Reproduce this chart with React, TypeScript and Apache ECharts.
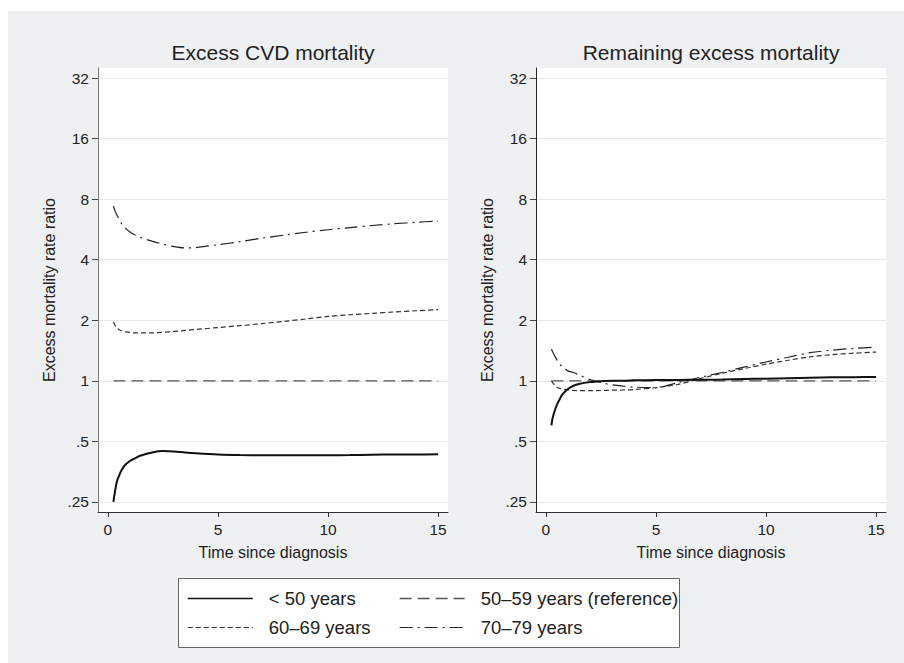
import React, { useEffect, useRef } from "react";
import * as echarts from "echarts";

const timePoints = [0.25, 0.3, 0.4, 0.5, 0.6, 0.75, 1, 1.25, 1.5, 2, 2.5, 3, 3.5, 4, 5, 6, 7, 8, 9, 10, 11, 12, 13, 14, 15];

const groupNames = ["< 50 years", "50–59 years (reference)", "60–69 years", "70–79 years"];
const panelTitles = ["Excess CVD mortality", "Remaining excess mortality"];
const yAxisTitle = "Excess mortality rate ratio";
const xAxisTitle = "Time since diagnosis";

// Excess CVD mortality (left panel)
const cvdUnder50 = [0.25, 0.272, 0.313, 0.336, 0.356, 0.378, 0.399, 0.413, 0.425, 0.44, 0.447, 0.445, 0.44, 0.436, 0.43, 0.427, 0.426, 0.426, 0.426, 0.426, 0.427, 0.429, 0.43, 0.43, 0.431];
const cvdRef = [1, 1, 1, 1, 1, 1, 1, 1, 1, 1, 1, 1, 1, 1, 1, 1, 1, 1, 1, 1, 1, 1, 1, 1, 1];
const cvd6069 = [1.96, 1.91, 1.84, 1.8, 1.78, 1.76, 1.74, 1.73, 1.73, 1.73, 1.745, 1.76, 1.78, 1.8, 1.84, 1.88, 1.925, 1.975, 2.03, 2.09, 2.13, 2.165, 2.2, 2.23, 2.26];
const cvd7079 = [7.4, 7.1, 6.7, 6.4, 6.1, 5.8, 5.5, 5.3, 5.15, 4.95, 4.78, 4.65, 4.58, 4.6, 4.75, 4.92, 5.12, 5.3, 5.48, 5.64, 5.78, 5.92, 6.04, 6.14, 6.23];

// Remaining excess mortality (right panel)
const remUnder50 = [0.6, 0.65, 0.71, 0.76, 0.8, 0.855, 0.91, 0.945, 0.965, 0.985, 0.995, 1.0, 1.0, 1.005, 1.008, 1.01, 1.012, 1.015, 1.02, 1.025, 1.03, 1.035, 1.04, 1.042, 1.045];
const remRef = [1, 1, 1, 1, 1, 1, 1, 1, 1, 1, 1, 1, 1, 1, 1, 1, 1, 1, 1, 1, 1, 1, 1, 1, 1];
const rem6069 = [1.0, 0.98, 0.95, 0.93, 0.92, 0.91, 0.9, 0.895, 0.893, 0.893, 0.895, 0.898, 0.9, 0.905, 0.925, 0.96, 1.025, 1.09, 1.15, 1.21, 1.265, 1.315, 1.35, 1.372, 1.39];
const rem7079 = [1.44, 1.4, 1.33, 1.27, 1.22, 1.17, 1.12, 1.1, 1.07, 1.015, 0.98, 0.955, 0.94, 0.93, 0.925, 0.98, 1.04, 1.1, 1.17, 1.24, 1.31, 1.38, 1.42, 1.45, 1.47];

const yTickValues = [0.25, 0.5, 1, 2, 4, 8, 16, 32];
const xTickValues = [0, 5, 10, 15];

const panels = [
  [cvdUnder50, cvdRef, cvd6069, cvd7079],
  [remUnder50, remRef, rem6069, rem7079],
];

const FONT = "'Liberation Sans', Arial, Helvetica, sans-serif";

const lineStyles: any[] = [
  { color: "#111111", width: 2, type: "solid" },
  { color: "#555555", width: 1.3, type: [12, 6] },
  { color: "#333333", width: 1.2, type: [5, 3] },
  { color: "#222222", width: 1.2, type: [13, 5, 2, 5] },
];

const gridLefts = [98, 536];
const gridWidth = 350;
const gridTop = 68;
const gridHeight = 444;

function fmtY(v: number) {
  const r = Math.round(v * 100) / 100;
  if (r < 1) return String(r).replace(/^0/, "");
  return String(r);
}

const hiddenSymbol = { opacity: 0, color: "transparent", borderWidth: 0 };

export default function App() {
  const ref = useRef<HTMLDivElement>(null);
  useEffect(() => {
    if (!ref.current) return;
    const chart = echarts.init(ref.current, undefined, { renderer: "svg" });

    const series: any[] = [];
    panels.forEach((vals, p) => {
      vals.forEach((arr, g) => {
        series.push({
          type: "line",
          name: groupNames[g],
          xAxisIndex: p,
          yAxisIndex: p,
          data: timePoints.map((t, i) => [t, arr[i]]),
          symbol: "none",
          showSymbol: false,
          smooth: 0.3,
          silent: true,
          z: g === 0 ? 4 : 3,
          lineStyle: { ...lineStyles[g], cap: "butt" },
          itemStyle: { color: lineStyles[g].color },
        });
      });
    });

    const legendBase = {
      orient: "vertical",
      top: 589,
      padding: 0,
      itemWidth: 65,
      itemHeight: 14,
      itemGap: 10,
      selectedMode: false,
      itemStyle: hiddenSymbol,
      textStyle: { fontSize: 18.5, color: "#222222", fontFamily: FONT, padding: [0, 0, 0, 11] },
    };

    const option: any = {
      animation: false,
      backgroundColor: "#ffffff",
      textStyle: { fontFamily: FONT },
      grid: gridLefts.map((left) => ({
        left,
        top: gridTop,
        width: gridWidth,
        height: gridHeight,
        show: true,
        backgroundColor: "#ffffff",
        borderWidth: 0,
        containLabel: false,
      })),
      xAxis: gridLefts.map((_, p) => ({
        type: "value",
        gridIndex: p,
        min: -0.45,
        max: 15.45,
        axisLine: { show: true, onZero: false, lineStyle: { color: "#333333", width: 1 } },
        axisTick: { show: true, length: 5, customValues: xTickValues, lineStyle: { color: "#333333" } },
        axisLabel: { customValues: xTickValues, margin: 9, fontSize: 15.5, color: "#222222", fontFamily: FONT },
        splitLine: { show: false },
        name: xAxisTitle,
        nameLocation: "middle",
        nameGap: 32,
        nameTextStyle: { fontSize: 16, color: "#222222", fontFamily: FONT },
      })),
      yAxis: gridLefts.map((_, p) => ({
        type: "log",
        logBase: 2,
        gridIndex: p,
        min: 0.2226,
        max: 35.94,
        axisLine: { show: true, onZero: false, lineStyle: { color: p === 0 ? "#777777" : "#222222", width: 1 } },
        axisTick: { show: true, length: 6, customValues: yTickValues, lineStyle: { color: "#444444" } },
        axisLabel: {
          customValues: yTickValues,
          margin: 9,
          fontSize: 15.5,
          color: "#222222",
          fontFamily: FONT,
          formatter: (v: number) => fmtY(v),
        },
        splitLine: { show: true, lineStyle: { color: "#e8e8e8", width: 1 } },
        name: yAxisTitle,
        nameLocation: "middle",
        nameGap: 41,
        nameRotate: 90,
        nameTextStyle: { fontSize: 16, color: "#222222", fontFamily: FONT },
      })),
      legend: [
        {
          ...legendBase,
          left: 187,
          data: [
            { name: groupNames[0], lineStyle: { width: 1.5 }, itemStyle: hiddenSymbol },
            { name: groupNames[2], lineStyle: { width: 1.2 }, itemStyle: hiddenSymbol },
          ],
        },
        {
          ...legendBase,
          left: 399,
          data: [
            { name: groupNames[1], lineStyle: { width: 1.3 }, itemStyle: hiddenSymbol },
            { name: groupNames[3], lineStyle: { width: 1.2 }, itemStyle: hiddenSymbol },
          ],
        },
      ],
      graphic: [
        {
          type: "rect",
          z: -10,
          silent: true,
          shape: { x: 8, y: 11, width: 896, height: 652 },
          style: { fill: "#eef0f2" },
        },
        {
          type: "rect",
          z: 1,
          silent: true,
          shape: { x: 178.5, y: 578.5, width: 501, height: 69 },
          style: { fill: "#ffffff", stroke: "#666666", lineWidth: 1 },
        },
        {
          type: "text",
          z: 5,
          x: gridLefts[0] + gridWidth / 2,
          y: 52,
          style: { text: panelTitles[0], fontSize: 21, fill: "#222222", fontFamily: FONT, align: "center", verticalAlign: "middle" },
        },
        {
          type: "text",
          z: 5,
          x: gridLefts[1] + gridWidth / 2,
          y: 52,
          style: { text: panelTitles[1], fontSize: 21, fill: "#222222", fontFamily: FONT, align: "center", verticalAlign: "middle" },
        },
      ],
      series,
    };
    chart.setOption(option);
    return () => chart.dispose();
  }, []);

  return (
    <div
      ref={ref}
      style={{ position: "fixed", left: 0, top: 0, width: 904, height: 663 }}
    />
  );
}
